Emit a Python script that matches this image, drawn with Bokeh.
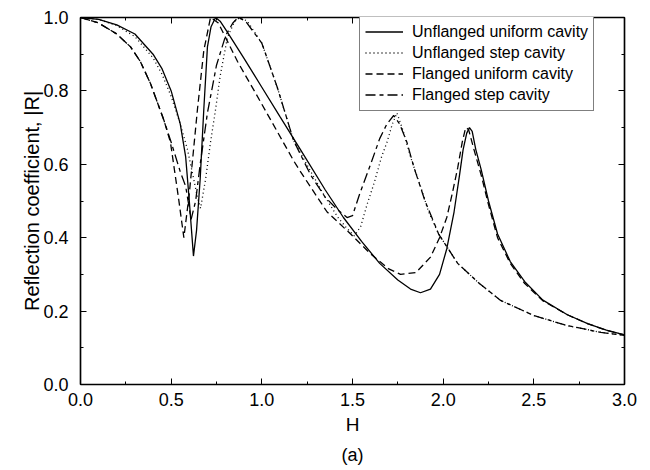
from bokeh.plotting import figure
from bokeh.models import (LinearAxis, Legend, LegendItem, PrintfTickFormatter,
                          FixedTicker, Title, Range1d)
from bokeh.embed import file_html
from bokeh.resources import INLINE

# ---- data ----
h_uu = [0, 0.1, 0.2, 0.3, 0.4, 0.45, 0.5, 0.55, 0.58, 0.60, 0.623, 0.64, 0.66, 0.68, 0.70, 0.72, 0.745,
        0.77, 0.81, 0.9, 1.0, 1.1, 1.213, 1.35, 1.45, 1.55, 1.65, 1.75, 1.82, 1.875, 1.93, 1.98, 2.02,
        2.06, 2.09, 2.11, 2.13, 2.145, 2.16, 2.18, 2.21, 2.25, 2.30, 2.37, 2.45, 2.55, 2.685, 2.80, 2.90, 3.0]
r_uu = [1.0, 0.995, 0.98, 0.955, 0.9, 0.86, 0.80, 0.71, 0.62, 0.50, 0.35, 0.42, 0.56, 0.75, 0.92, 0.975, 1.0,
        0.99, 0.96, 0.89, 0.81, 0.73, 0.64, 0.53, 0.455, 0.39, 0.33, 0.285, 0.26, 0.25, 0.26, 0.30, 0.37,
        0.47, 0.57, 0.64, 0.685, 0.70, 0.69, 0.64, 0.585, 0.50, 0.41, 0.335, 0.28, 0.23, 0.19, 0.165, 0.148, 0.135]

h_us = [0, 0.1, 0.2, 0.3, 0.4, 0.45, 0.5, 0.55, 0.59, 0.62, 0.645, 0.662, 0.69, 0.717, 0.745, 0.77, 0.81,
        0.85, 0.88, 0.92, 1.0, 1.085, 1.175, 1.27, 1.35, 1.42, 1.47, 1.51, 1.545, 1.58, 1.62, 1.66, 1.69,
        1.72, 1.745, 1.78, 1.82, 1.875, 1.92, 1.975, 2.08, 2.2, 2.317, 2.5, 2.68, 2.87, 3.0]
r_us = [1.0, 0.995, 0.978, 0.948, 0.89, 0.845, 0.785, 0.71, 0.64, 0.57, 0.51, 0.48, 0.56, 0.66, 0.75, 0.84, 0.945,
        0.99, 1.0, 0.99, 0.93, 0.81, 0.665, 0.58, 0.51, 0.455, 0.425, 0.405, 0.43, 0.49, 0.55, 0.62, 0.66,
        0.71, 0.74, 0.69, 0.62, 0.54, 0.47, 0.41, 0.33, 0.275, 0.229, 0.188, 0.161, 0.142, 0.134]

h_fu = [0, 0.1, 0.2, 0.276, 0.33, 0.386, 0.46, 0.496, 0.54, 0.57, 0.60, 0.645, 0.68, 0.717, 0.76, 0.866,
        0.97, 1.05, 1.175, 1.213, 1.36, 1.49, 1.60, 1.70, 1.765, 1.85, 1.93, 1.98, 2.02, 2.05, 2.08, 2.105,
        2.124, 2.14, 2.17, 2.21, 2.25, 2.30, 2.37, 2.45, 2.55, 2.685, 2.80, 2.90, 3.0]
r_fu = [1.0, 0.985, 0.955, 0.92, 0.88, 0.82, 0.72, 0.66, 0.51, 0.40, 0.52, 0.75, 0.91, 1.0, 0.985, 0.88,
        0.79, 0.72, 0.61, 0.58, 0.47, 0.41, 0.356, 0.315, 0.30, 0.305, 0.347, 0.40, 0.455, 0.52, 0.59, 0.66,
        0.70, 0.695, 0.64, 0.57, 0.49, 0.40, 0.33, 0.275, 0.228, 0.19, 0.165, 0.148, 0.135]

h_fs = [0, 0.1, 0.2, 0.276, 0.33, 0.386, 0.46, 0.50, 0.55, 0.58, 0.61, 0.635, 0.66, 0.70, 0.75, 0.80, 0.84,
        0.87, 0.91, 1.0, 1.085, 1.175, 1.27, 1.35, 1.42, 1.47, 1.50, 1.54, 1.60, 1.65, 1.69, 1.727, 1.76,
        1.80, 1.84, 1.9, 1.975, 2.08, 2.2, 2.317, 2.5, 2.68, 2.87, 3.0]
r_fs = [1.0, 0.985, 0.955, 0.92, 0.88, 0.82, 0.72, 0.66, 0.58, 0.54, 0.45, 0.50, 0.60, 0.74, 0.87, 0.95, 0.985,
        1.0, 0.99, 0.93, 0.81, 0.665, 0.57, 0.51, 0.475, 0.455, 0.46, 0.52, 0.60, 0.67, 0.71, 0.733, 0.71,
        0.66, 0.59, 0.50, 0.41, 0.33, 0.275, 0.229, 0.188, 0.161, 0.142, 0.134]

labels = ["Unflanged uniform cavity", "Unflanged step cavity",
          "Flanged uniform cavity", "Flanged step cavity"]
x_ticks = [0.0, 0.5, 1.0, 1.5, 2.0, 2.5, 3.0]
y_ticks = [0.0, 0.2, 0.4, 0.6, 0.8, 1.0]

FONT = "Liberation Sans"

p = figure(width=650, height=470, output_backend="svg", toolbar_location=None,
           x_range=Range1d(0, 3), y_range=Range1d(0, 1),
           min_border_left=80, min_border_right=26, min_border_top=17, min_border_bottom=86)
p.grid.visible = False
p.outline_line_color = "black"
p.outline_line_width = 1.2

r1 = p.line(h_uu, r_uu, line_color="black", line_width=1.3)
r2 = p.line(h_us, r_us, line_color="black", line_width=1.3, line_dash="1 3")
r3 = p.line(h_fu, r_fu, line_color="black", line_width=1.3, line_dash="7 4")
r4 = p.line(h_fs, r_fs, line_color="black", line_width=1.3, line_dash="10 4 4 4")

def style_axis(ax, show_labels):
    ax.axis_line_color = "black"
    ax.axis_line_width = 1.5
    ax.major_tick_in = 6
    ax.major_tick_out = 0
    ax.minor_tick_in = 3
    ax.minor_tick_out = 0
    ax.major_tick_line_color = "black"
    ax.minor_tick_line_color = "black"
    ax.major_label_text_font = FONT
    ax.major_label_text_font_size = "18px"
    ax.major_label_text_color = "black"
    ax.axis_label_text_font = FONT
    ax.axis_label_text_font_style = "normal"
    ax.axis_label_text_font_size = "19px"
    ax.axis_label_text_color = "black"
    ax.formatter = PrintfTickFormatter(format="%.1f")
    if not show_labels:
        ax.major_label_text_font_size = "0px"
        ax.major_label_text_color = None

xt = FixedTicker(ticks=x_ticks, minor_ticks=[i * 0.25 for i in range(13)])
yt = FixedTicker(ticks=y_ticks, minor_ticks=[i * 0.1 for i in range(11)])

p.xaxis.ticker = xt
p.yaxis.ticker = yt
for ax in p.xaxis:
    style_axis(ax, True)
    ax.axis_label = "H"
    ax.major_label_standoff = 8
    ax.axis_label_standoff = 5
for ax in p.yaxis:
    style_axis(ax, True)
    ax.axis_label = "Reflection coefficient, |R|"
    ax.axis_label_text_font_size = "20px"
    ax.major_label_standoff = 12
    ax.axis_label_standoff = -3

top = LinearAxis(ticker=xt)
style_axis(top, False)
p.add_layout(top, "above")
right = LinearAxis(ticker=yt)
style_axis(right, False)
p.add_layout(right, "right")

p.add_layout(Title(text="(a)", align="center", text_font=FONT, text_font_size="18px",
                   text_font_style="normal", text_color="black", standoff=11), "below")

legend = Legend(items=[LegendItem(label=labels[0], renderers=[r1]),
                       LegendItem(label=labels[1], renderers=[r2]),
                       LegendItem(label=labels[2], renderers=[r3]),
                       LegendItem(label=labels[3], renderers=[r4])],
                location=(279, 273), margin=0, padding=5, spacing=0,
                label_height=21, glyph_height=21, glyph_width=38, label_standoff=9,
                label_text_font=FONT, label_text_font_size="16px", label_text_color="black",
                border_line_color="black", border_line_width=1.2,
                background_fill_color="white", background_fill_alpha=1.0)
p.add_layout(legend)

open("out.html", "w").write(file_html(p, INLINE))
